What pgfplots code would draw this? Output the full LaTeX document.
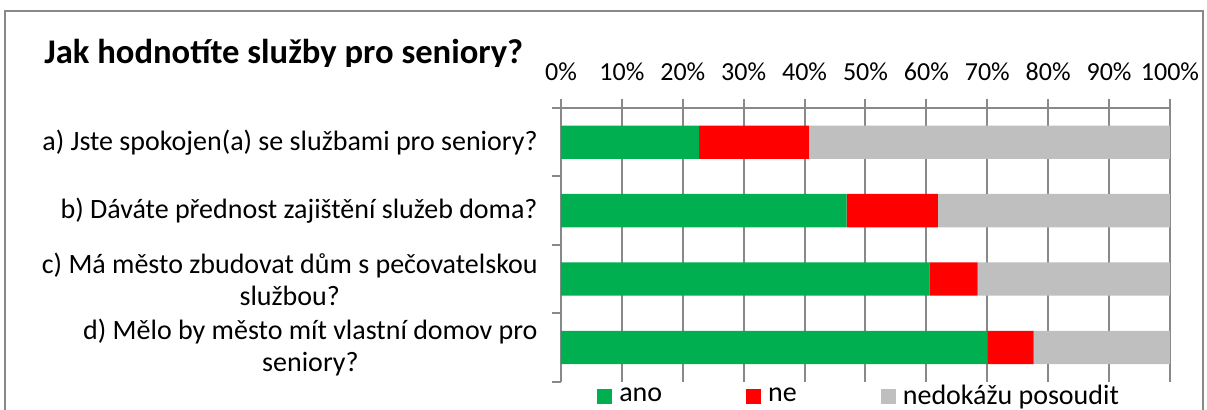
\documentclass[border=0pt]{standalone}
\usepackage{fontspec}
\setmainfont{Carlito}
\usepackage{pgfplots}
\pgfplotsset{compat=1.18}
\definecolor{cgreen}{RGB}{0,176,80}
\definecolor{cred}{RGB}{255,0,0}
\definecolor{cgray}{RGB}{191,191,191}
\definecolor{cline}{RGB}{137,137,137}
\begin{document}
\begin{tikzpicture}
\useasboundingbox (0,0) rectangle (603.5pt,-204.5pt);
\draw[cline, line width=0.75pt] (2.5pt,-230pt) -- (2.5pt,-5.5pt) -- (601.5pt,-5.5pt) -- (601.5pt,-230pt);
\begin{scope}
\clip (0pt,-6pt) rectangle (300pt,-33.3pt);
\node[anchor=base west, inner sep=0pt, font=\fontsize{17.3}{20}\selectfont\bfseries] at (22pt,-31.8pt) {Jak hodnotíte služby pro seniory?};
\end{scope}
\begin{axis}[
  at={(280.5pt,-54pt)}, anchor=north west,
  scale only axis, width=304.5pt, height=136.85pt,
  xbar stacked, bar width=16.65pt,
  xmin=0, xmax=100, ymin=0.5, ymax=4.5, y dir=reverse,
  axis x line*=top, axis y line*=left,
  axis line style={cline, line width=1pt, -},
  tick align=outside,
  xtick={0,10,...,100},
  xticklabel={\pgfmathprintnumber{\tick}\%},
  /pgf/number format/assume math mode=true,
  x tick style={cline, line width=1pt},
  major tick length=4.5pt,
  xmajorgrids, grid style={cline, line width=1pt},
  xticklabel style={font=\fontsize{13}{15}\selectfont, inner sep=0pt, anchor=south, yshift=9pt},
  ytick={1,2,3,4},
  y tick style={draw=none},
  minor ytick={0.5,1.5,2.5,3.5,4.5},
  minor y tick style={draw=cline, line width=1pt},
  minor tick length=4.3pt,
  yticklabels={{a) Jste spokojen(a) se službami pro seniory?},{b) Dáváte přednost zajištění služeb doma?},{c) Má město zbudovat dům s pečovatelskou\\službou?},{d) Mělo by město mít vlastní domov pro\\seniory?}},
  yticklabel style={font=\fontsize{14}{16}\selectfont, align=center, inner sep=0pt, anchor=east, xshift=-7pt},
  legend columns=3,
  legend style={draw=none, fill=none, at={(axis description cs:0.059,-0.054)}, anchor=west, inner sep=0pt, font=\fontsize{14}{16}\selectfont, nodes={inner sep=1pt, anchor=west}, /tikz/every even column/.append style={column sep=41pt}, /tikz/every odd column/.append style={column sep=2.5pt}},
  legend image code/.code={\fill[#1] (0pt,-3.75pt) rectangle (7.5pt,3.75pt);},
]
\addplot[fill=cgreen, draw=none] coordinates {(22.7,1) (46.9,2) (60.5,3) (70.0,4)};
\addplot[fill=cred, draw=none] coordinates {(18.0,1) (15.0,2) (7.9,3) (7.6,4)};
\addplot[fill=cgray, draw=none] coordinates {(59.3,1) (38.1,2) (31.6,3) (22.4,4)};
\legend{ano,ne,nedokážu posoudit}
\end{axis}
\end{tikzpicture}
\end{document}
